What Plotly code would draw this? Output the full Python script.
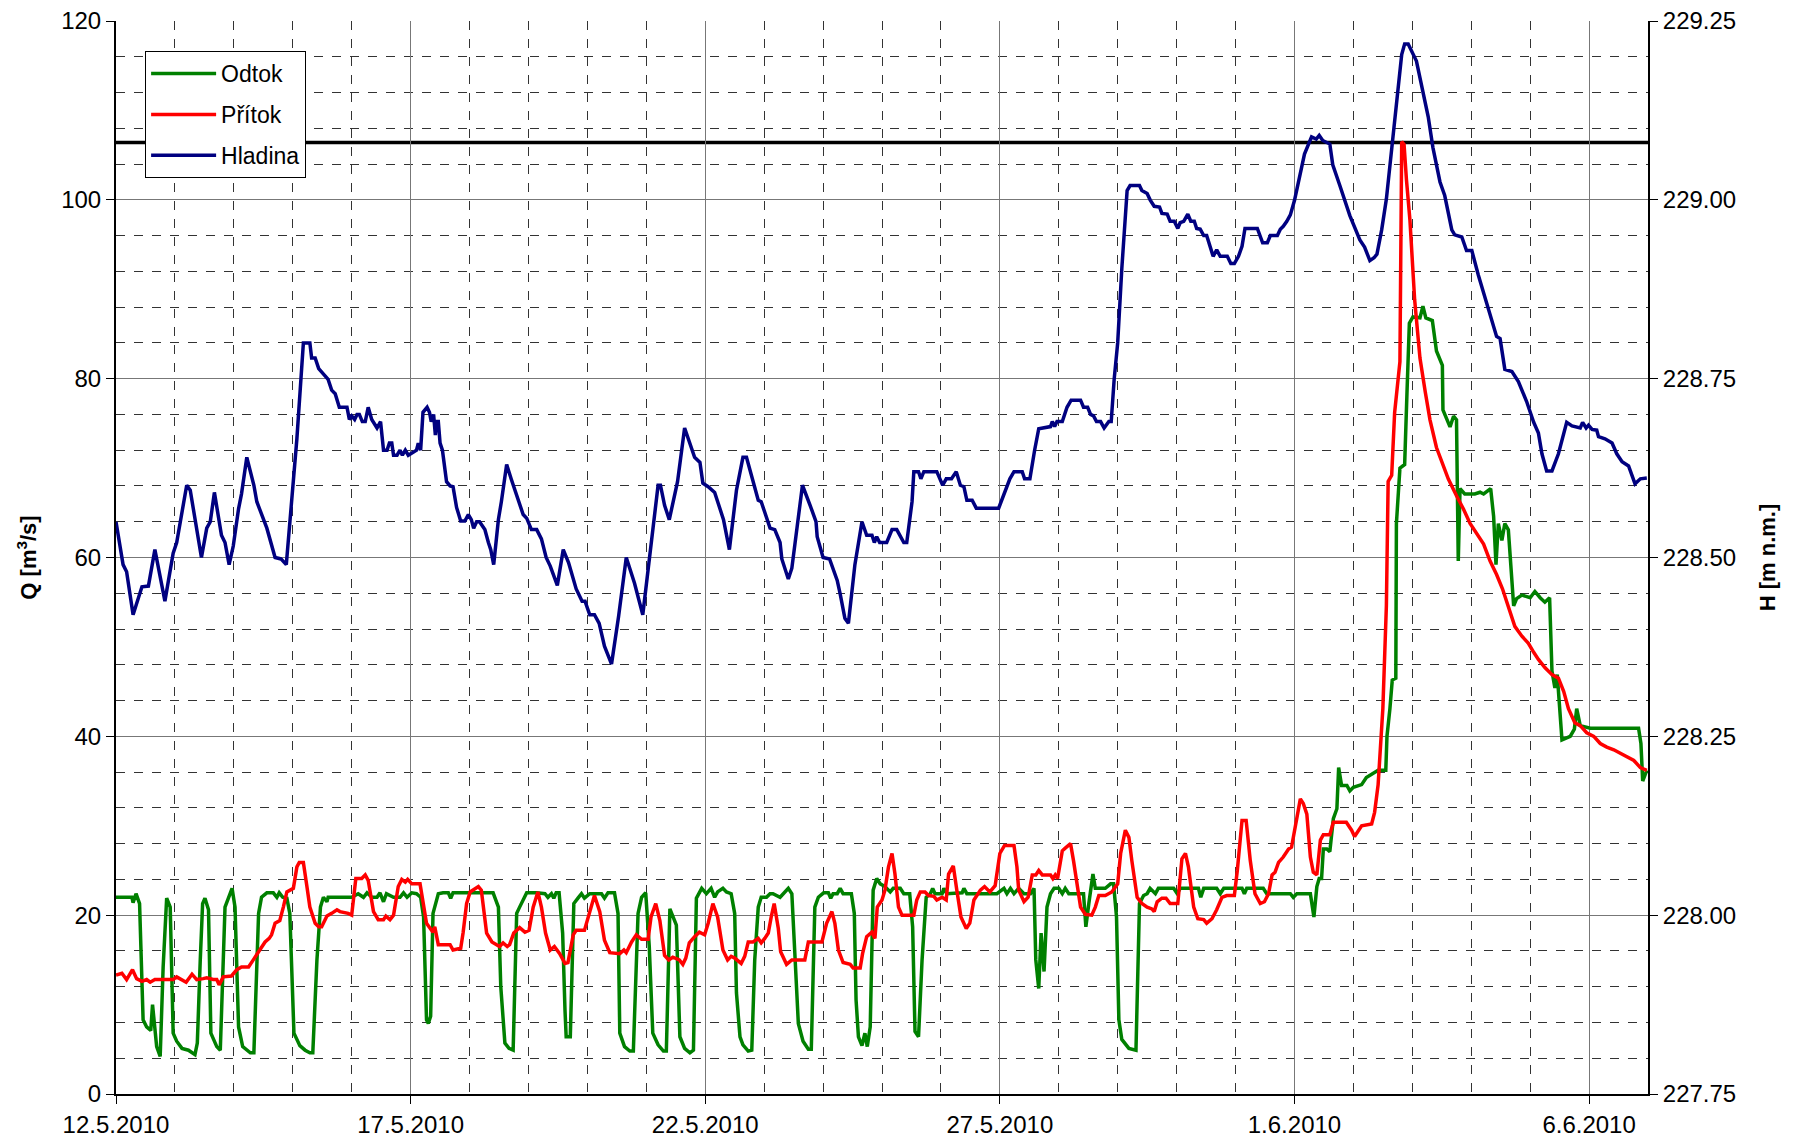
import pandas as pd
import plotly.graph_objects as go

# days since 12.5.2010 00:00 and values
START = pd.Timestamp("2010-05-12")

odtok_t = [
    0.00, 0.27, 0.29, 0.34, 0.40, 0.44, 0.46, 0.52, 0.59, 0.62, 0.69, 0.75, 0.80, 0.86, 0.92, 0.97,
    1.03, 1.12, 1.23, 1.34, 1.38, 1.43, 1.47, 1.51, 1.57, 1.61, 1.71, 1.77, 1.85, 1.97, 2.02, 2.08,
    2.15, 2.28, 2.34, 2.42, 2.47, 2.56, 2.67, 2.73, 2.77, 2.83, 2.90, 2.95, 3.02, 3.12, 3.21, 3.29,
    3.34, 3.41, 3.47, 3.52, 3.58, 3.60, 4.00, 4.11, 4.20, 4.26, 4.34, 4.43, 4.48, 4.54, 4.59, 4.71,
    4.82, 4.88, 4.94, 5.02, 5.10, 5.17, 5.22, 5.27, 5.30, 5.34, 5.38, 5.47, 5.55, 5.64, 5.68, 5.72,
    6.40, 6.49, 6.53, 6.60, 6.67, 6.74, 6.80, 6.85, 6.97, 7.14, 7.28, 7.33, 7.39, 7.43, 7.47, 7.52,
    7.58, 7.62, 7.64, 7.71, 7.77, 7.84, 7.90, 7.95, 8.04, 8.24, 8.29, 8.35, 8.46, 8.52, 8.55, 8.63,
    8.72, 8.78, 8.83, 8.86, 8.92, 8.99, 9.05, 9.11, 9.20, 9.29, 9.34, 9.40, 9.51, 9.57, 9.65, 9.74,
    9.80, 9.85, 9.94, 10.02, 10.10, 10.16, 10.21, 10.30, 10.36, 10.44, 10.50, 10.53, 10.59, 10.64,
    10.73, 10.79, 10.84, 10.90, 10.95, 11.04, 11.10, 11.15, 11.27, 11.35, 11.41, 11.47, 11.52, 11.58,
    11.66, 11.75, 11.80, 11.86, 11.92, 12.01, 12.09, 12.13, 12.17, 12.24, 12.29, 12.34, 12.48, 12.53,
    12.56, 12.60, 12.66, 12.71, 12.75, 12.80, 12.85, 12.91, 12.97, 13.05, 13.14, 13.19, 13.31, 13.37,
    13.47, 13.52, 13.56, 13.62, 13.68, 13.75, 13.82, 13.86, 13.90, 14.02, 14.05, 14.10, 14.36, 14.39,
    14.44, 14.95, 15.07, 15.12, 15.18, 15.24, 15.32, 15.41, 15.52, 15.58, 15.61, 15.66, 15.70, 15.75,
    15.78, 15.80, 15.86, 15.92, 16.00, 16.06, 16.11, 16.17, 16.42, 16.46, 16.51, 16.58, 16.62, 16.79,
    16.88, 16.93, 16.98, 17.02, 17.07, 17.19, 17.31, 17.34, 17.37, 17.44, 17.50, 17.55, 17.64, 17.69,
    17.95, 18.01, 18.06, 18.37, 18.41, 18.46, 18.68, 18.74, 18.80, 19.11, 19.15, 19.19, 19.47, 19.53,
    19.93, 19.98, 20.04, 20.27, 20.33, 20.38, 20.42, 20.46, 20.49, 20.55, 20.60, 20.66, 20.72, 20.75,
    20.80, 20.89, 20.94, 21.00, 21.14, 21.22, 21.31, 21.42, 21.55, 21.57, 21.62, 21.66, 21.72, 21.73,
    21.79, 21.87, 21.91, 21.95, 22.01, 22.13, 22.18, 22.23, 22.34, 22.41, 22.51, 22.52, 22.64, 22.70,
    22.75, 22.78, 22.81, 22.89, 22.98, 23.06, 23.15, 23.21, 23.33, 23.38, 23.42, 23.46, 23.52, 23.57,
    23.63, 23.72, 23.77, 23.86, 24.00, 24.08, 24.17, 24.25, 24.33, 24.37, 24.42, 24.46, 24.54, 24.68,
    24.75, 24.79, 24.85, 25.02, 25.84, 25.88, 25.91, 25.98,
]
odtok_q = [
    22.0, 22.0, 21.4, 22.4, 21.3, 13.9, 8.3, 7.5, 7.1, 10.0, 5.3, 4.2, 14.2, 21.9, 20.9, 6.8,
    5.9, 5.1, 4.9, 4.4, 5.7, 15.0, 21.3, 21.9, 20.6, 6.8, 5.3, 4.9, 20.9, 23.0, 20.9, 7.5,
    5.3, 4.6, 4.6, 20.2, 22.0, 22.5, 22.5, 22.0, 22.5, 22.0, 21.9, 20.2, 6.8, 5.4, 4.9, 4.6,
    4.6, 15.0, 20.9, 22.0, 21.5, 22.0, 22.0, 22.4, 22.0, 22.5, 22.0, 22.0, 22.5, 21.5, 22.4, 22.0,
    22.0, 22.5, 22.0, 22.5, 22.4, 22.0, 19.8, 8.3, 7.9, 8.7, 20.2, 22.4, 22.5, 22.5, 21.9, 22.5,
    22.5, 20.9, 12.0, 5.7, 5.1, 4.9, 20.2, 20.9, 22.5, 22.5, 22.4, 22.0, 22.4, 21.9, 22.5, 22.5,
    18.0, 9.4, 6.4, 6.4, 21.3, 21.9, 22.4, 21.9, 22.4, 22.4, 21.9, 22.5, 22.5, 20.2, 6.8, 5.3,
    4.8, 4.8, 16.1, 20.2, 22.0, 22.5, 16.5, 6.8, 5.5, 4.8, 4.8, 20.7, 18.9, 6.4, 5.1, 4.6,
    4.9, 21.9, 23.0, 22.4, 23.0, 22.0, 22.6, 23.0, 22.6, 22.4, 20.2, 11.3, 6.4, 5.5,
    4.8, 4.9, 15.0, 20.9, 22.0, 22.0, 22.4, 22.4, 22.0, 22.5, 23.0, 22.4, 15.0, 7.9,
    5.9, 5.0, 5.0, 20.9, 22.0, 22.5, 22.5, 21.9, 22.4, 22.4, 23.0, 22.4, 22.4, 20.2,
    10.5, 6.4, 5.4, 6.8, 5.3, 7.5, 22.8, 24.1, 23.5, 23.2, 22.6, 23.0, 23.0, 22.4,
    22.4, 18.7, 7.0, 6.4, 15.0, 22.0, 22.4, 23.0, 22.4, 22.4, 23.0, 22.4, 22.5, 23.0,
    22.4, 22.4, 23.0, 22.4, 23.0, 22.4, 23.0, 22.4, 22.4, 23.0, 15.0, 11.8, 18.0, 13.7,
    18.0, 20.9, 22.4, 23.0, 23.0, 22.4, 23.0, 22.4, 22.4, 18.7, 21.3, 24.6, 23.0, 23.0,
    23.5, 23.5, 19.8, 8.3, 6.1, 5.1, 4.9, 13.1, 21.3, 22.2, 22.4, 23.0, 22.4, 23.0,
    23.0, 22.4, 23.0, 23.0, 22.0, 23.0, 23.0, 22.4, 23.0, 23.0, 22.4, 23.0, 23.0, 22.4,
    22.4, 22.0, 22.4, 22.4, 19.8, 23.2, 24.1, 24.1, 27.4, 27.4, 27.1, 30.8, 31.9, 36.5,
    34.5, 34.5, 33.9, 34.3, 34.6, 35.4, 35.8, 36.2, 36.2, 40.0, 43.1, 46.3, 46.5, 63.8,
    70.0, 70.4, 78.5, 86.2, 86.9, 86.8, 88.1, 86.8, 86.5, 83.1, 81.5, 76.5, 74.6, 75.8,
    75.4, 59.6, 67.7, 67.1, 67.1, 67.1, 67.3, 67.1, 67.7, 64.6, 59.2, 63.8, 61.9, 63.8,
    63.1, 54.6, 55.4, 55.8, 55.5, 56.2, 55.5, 55.0, 55.5, 47.3, 45.4, 46.9, 39.6, 40.0,
    40.8, 43.1, 41.2, 40.9, 40.9, 39.2, 35.0, 36.2,
]

pritok_t = [
    0.00, 0.10, 0.18, 0.28, 0.35, 0.44, 0.52, 0.58, 0.66, 0.97, 1.03, 1.12, 1.19, 1.29, 1.37, 1.48,
    1.54, 1.65, 1.71, 1.75, 1.82, 1.96, 2.05, 2.13, 2.25, 2.33, 2.42, 2.53, 2.60, 2.64, 2.70, 2.78,
    2.84, 2.90, 3.01, 3.07, 3.11, 3.18, 3.24, 3.29, 3.38, 3.44, 3.49, 3.58, 3.66, 3.75, 3.80, 3.94,
    4.00, 4.07, 4.17, 4.23, 4.28, 4.37, 4.45, 4.54, 4.58, 4.65, 4.71, 4.79, 4.85, 4.91, 4.95, 5.02,
    5.16, 5.27, 5.38, 5.41, 5.47, 5.67, 5.72, 5.85, 5.89, 5.95, 6.01, 6.09, 6.15, 6.20, 6.29, 6.38,
    6.43, 6.51, 6.57, 6.64, 6.68, 6.75, 6.85, 6.94, 7.01, 7.08, 7.16, 7.22, 7.29, 7.37, 7.44, 7.53,
    7.62, 7.67, 7.76, 7.81, 7.95, 8.04, 8.12, 8.21, 8.29, 8.38, 8.55, 8.62, 8.66, 8.75, 8.83, 8.92,
    9.03, 9.08, 9.16, 9.23, 9.31, 9.38, 9.45, 9.56, 9.62, 9.67, 9.73, 9.82, 9.90, 9.99, 10.05, 10.13,
    10.21, 10.30, 10.38, 10.44, 10.50, 10.61, 10.67, 10.73, 10.81, 10.90, 10.95, 11.01, 11.07, 11.12,
    11.17, 11.24, 11.28, 11.38, 11.47, 11.69, 11.75, 11.98, 12.06, 12.15, 12.20, 12.26, 12.34, 12.46,
    12.51, 12.63, 12.67, 12.74, 12.83, 12.88, 12.92, 13.00, 13.05, 13.11, 13.17, 13.22, 13.28, 13.34,
    13.54, 13.59, 13.65, 13.73, 13.79, 13.88, 13.93, 14.02, 14.09, 14.13, 14.21, 14.27, 14.34, 14.43,
    14.49, 14.56, 14.67, 14.74, 14.83, 14.92, 15.00, 15.08, 15.24, 15.29, 15.32, 15.41, 15.48, 15.55,
    15.61, 15.66, 15.72, 15.80, 15.86, 15.90, 15.94, 15.98, 16.06, 16.11, 16.20, 16.25, 16.31, 16.37,
    16.45, 16.56, 16.62, 16.68, 16.79, 16.90, 17.00, 17.05, 17.13, 17.19, 17.24, 17.33, 17.41, 17.50,
    17.58, 17.62, 17.67, 17.75, 17.82, 17.89, 18.02, 18.09, 18.15, 18.20, 18.29, 18.36, 18.46, 18.51,
    18.60, 18.68, 18.77, 18.85, 18.98, 19.03, 19.11, 19.18, 19.25, 19.33, 19.42, 19.49, 19.56, 19.62,
    19.67, 19.73, 19.81, 19.90, 19.95, 20.01, 20.10, 20.15, 20.21, 20.27, 20.32, 20.38, 20.44, 20.49,
    20.60, 20.66, 20.88, 20.97, 21.02, 21.14, 21.31, 21.36, 21.42, 21.50, 21.56, 21.59, 21.65, 21.70,
    21.79, 21.82, 21.86, 21.90, 21.96, 22.04, 22.13, 22.22, 22.30, 22.41, 22.50, 22.61, 22.75, 22.87,
    22.98, 23.09, 23.21, 23.32, 23.43, 23.53, 23.66, 23.74, 23.86, 23.97, 24.06, 24.14, 24.25, 24.37,
    24.48, 24.57, 24.65, 24.76, 24.85, 24.96, 25.08, 25.19, 25.30, 25.42, 25.53, 25.64, 25.76, 25.87,
    25.98,
]
pritok_q = [
    13.3, 13.5, 12.8, 13.9, 12.9, 12.6, 12.8, 12.5, 12.8, 12.8, 13.1, 12.8, 12.5, 13.4, 12.8, 12.9,
    13.0, 12.8, 12.8, 12.2, 13.1, 13.2, 13.9, 14.2, 14.2, 15.0, 15.9, 17.0, 17.4, 17.8, 19.1, 19.4,
    20.9, 22.6, 23.0, 25.4, 25.9, 25.9, 23.2, 20.9, 19.1, 18.7, 18.7, 19.9, 20.2, 20.6, 20.4, 20.2,
    20.0, 24.1, 24.1, 24.5, 23.9, 20.4, 19.5, 19.5, 19.9, 19.5, 20.0, 23.2, 24.0, 23.7, 24.0, 23.5,
    23.5, 19.1, 18.1, 18.7, 16.7, 16.7, 16.1, 16.3, 18.0, 21.3, 22.6, 23.0, 23.2, 22.8, 18.0, 17.0,
    16.8, 16.5, 16.9, 16.5, 16.7, 18.0, 18.6, 18.1, 18.3, 20.9, 22.6, 20.9, 18.0, 16.1, 16.5, 15.7,
    14.6, 14.7, 17.8, 18.3, 18.3, 20.2, 22.2, 20.4, 17.2, 15.8, 15.7, 16.1, 15.8, 17.0, 17.8, 17.3,
    17.3, 19.8, 21.3, 19.4, 15.5, 15.0, 15.3, 15.0, 14.5, 15.2, 16.9, 17.6, 18.1, 17.8, 19.1, 21.3,
    19.8, 16.1, 15.0, 15.4, 15.2, 14.6, 15.4, 17.0, 17.0, 17.4, 16.9, 17.4, 18.0, 19.8,
    21.3, 18.5, 15.9, 14.5, 15.0, 15.0, 17.0, 17.0, 19.1, 20.4, 19.1, 16.1, 14.7, 14.5,
    14.1, 14.1, 15.7, 17.6, 18.1, 17.4, 20.9, 21.7, 22.8, 25.4, 26.9, 24.6, 20.9, 20.0,
    20.0, 21.7, 22.6, 22.6, 22.2, 22.1, 21.7, 22.0, 21.7, 24.6, 25.5, 22.8, 19.8, 18.5,
    19.1, 21.7, 22.8, 23.2, 22.6, 23.3, 26.9, 27.8, 27.8, 25.4, 22.8, 21.5, 22.0, 24.5,
    24.5, 25.0, 24.5, 24.5, 24.5, 24.1, 24.5, 24.1, 27.2, 27.5, 28.0, 26.1, 23.2, 20.9,
    20.1, 20.0, 20.9, 22.2, 22.2, 22.6, 23.5, 26.9, 29.5, 28.7, 26.1, 22.0, 21.3, 20.9,
    20.7, 20.4, 21.5, 21.9, 21.9, 21.3, 21.3, 26.3, 26.9, 25.4, 20.9, 19.6, 19.5, 19.1,
    19.6, 20.6, 22.0, 22.2, 22.2, 25.0, 30.6, 30.6, 26.1, 22.4, 21.3, 21.5, 22.4, 24.5,
    24.8, 25.9, 26.5, 27.4, 27.6, 29.9, 33.0, 32.5, 31.3, 26.5, 24.8, 24.5, 28.4, 29.0,
    29.0, 30.4, 30.4, 29.5, 28.8, 30.0, 30.2, 31.5, 34.6, 43.1, 54.6, 68.5, 69.2, 76.2,
    81.9, 106.5, 106.2, 102.3, 97.7, 88.8, 82.3, 78.5, 75.4, 72.3, 70.8, 68.8, 66.9, 65.4,
    63.8, 62.7, 61.5, 59.6, 58.1, 56.5, 53.8, 52.3, 51.2, 50.4, 49.4, 48.6, 47.7, 46.9,
    46.5, 45.0, 43.1, 41.5, 41.2, 40.4, 40.0, 39.2, 38.8, 38.5, 38.1, 37.7, 37.3, 36.5,
    36.2,
]

hladina_t = [
    0.00, 0.12, 0.18, 0.29, 0.44, 0.55, 0.66, 0.83, 0.97, 1.03, 1.20, 1.26, 1.45, 1.54, 1.60, 1.67,
    1.79, 1.85, 1.92, 1.99, 2.08, 2.13, 2.22, 2.28, 2.34, 2.39, 2.56, 2.70, 2.80, 2.89, 2.98, 3.07,
    3.18, 3.29, 3.32, 3.38, 3.44, 3.52, 3.60, 3.66, 3.72, 3.79, 3.92, 3.96, 4.00, 4.05, 4.09, 4.13,
    4.18, 4.23, 4.28, 4.34, 4.43, 4.49, 4.54, 4.60, 4.64, 4.68, 4.71, 4.77, 4.82, 4.86, 4.91, 4.96,
    5.10, 5.13, 5.17, 5.21, 5.28, 5.32, 5.35, 5.39, 5.42, 5.44, 5.47, 5.50, 5.54, 5.61, 5.67, 5.72,
    5.78, 5.85, 5.92, 5.98, 6.03, 6.07, 6.12, 6.17, 6.26, 6.32, 6.36, 6.41, 6.49, 6.54, 6.63, 6.71,
    6.83, 6.91, 6.97, 7.05, 7.14, 7.22, 7.30, 7.37, 7.49, 7.59, 7.68, 7.81, 7.91, 7.96, 8.04, 8.12,
    8.20, 8.29, 8.41, 8.53, 8.66, 8.80, 8.94, 9.11, 9.20, 9.24, 9.31, 9.39, 9.53, 9.65, 9.82, 9.91,
    9.96, 10.05, 10.16, 10.31, 10.41, 10.53, 10.64, 10.70, 10.84, 10.90, 10.95, 11.10, 11.18, 11.27,
    11.30, 11.41, 11.47, 11.65, 11.78, 11.88, 11.90, 12.00, 12.11, 12.24, 12.29, 12.37, 12.43, 12.54,
    12.66, 12.74, 12.83, 12.87, 12.91, 12.96, 13.08, 13.17, 13.25, 13.31, 13.37, 13.42, 13.51, 13.54,
    13.62, 13.66, 13.71, 13.93, 13.98, 14.03, 14.09, 14.18, 14.26, 14.33, 14.39, 14.44, 14.53, 14.60,
    14.98, 15.07, 15.17, 15.24, 15.38, 15.42, 15.51, 15.59, 15.66, 15.86, 15.89, 15.93, 15.97, 16.06,
    16.14, 16.21, 16.37, 16.42, 16.49, 16.54, 16.59, 16.64, 16.71, 16.77, 16.85, 16.89, 16.94, 17.00,
    17.07, 17.16, 17.21, 17.37, 17.41, 17.50, 17.55, 17.62, 17.71, 17.75, 17.84, 17.89, 17.96, 18.02,
    18.06, 18.12, 18.19, 18.24, 18.30, 18.34, 18.40, 18.46, 18.51, 18.62, 18.68, 18.74, 18.86, 18.92,
    18.98, 19.05, 19.11, 19.16, 19.37, 19.46, 19.54, 19.59, 19.71, 19.76, 19.81, 19.87, 19.93, 20.00,
    20.07, 20.17, 20.29, 20.37, 20.42, 20.48, 20.60, 20.65, 20.77, 20.94, 21.11, 21.19, 21.28, 21.35,
    21.40, 21.48, 21.56, 21.65, 21.73, 21.82, 21.87, 21.93, 22.07, 22.19, 22.27, 22.35, 22.47, 22.55,
    22.67, 22.72, 22.84, 22.92, 23.01, 23.12, 23.26, 23.35, 23.43, 23.49, 23.57, 23.69, 23.80, 23.94,
    24.06, 24.14, 24.20, 24.28, 24.37, 24.48, 24.57, 24.62, 24.71, 24.85, 24.89, 24.95, 24.99, 25.05,
    25.13, 25.16, 25.27, 25.39, 25.47, 25.56, 25.67, 25.78, 25.87, 25.98,
]
hladina_h = [
    228.550, 228.490, 228.480, 228.420, 228.459, 228.460, 228.511, 228.439, 228.506, 228.521,
    228.601, 228.594, 228.500, 228.541, 228.550, 228.591, 228.531, 228.521, 228.490, 228.516,
    228.568, 228.589, 228.640, 228.620, 228.601, 228.578, 228.541, 228.500, 228.498, 228.490,
    228.578, 228.666, 228.800, 228.800, 228.779, 228.779, 228.764, 228.756, 228.749, 228.734,
    228.729, 228.710, 228.710, 228.693, 228.698, 228.693, 228.700, 228.700, 228.690, 228.690,
    228.710, 228.693, 228.681, 228.690, 228.650, 228.650, 228.660, 228.660, 228.643, 228.643,
    228.650, 228.643, 228.650, 228.643, 228.650, 228.660, 228.650, 228.703, 228.710, 228.703,
    228.690, 228.700, 228.671, 228.690, 228.690, 228.660, 228.650, 228.606, 228.600, 228.599,
    228.570, 228.551, 228.551, 228.560, 228.553, 228.541, 228.550, 228.550, 228.539, 228.521,
    228.511, 228.490, 228.553, 228.578, 228.630, 228.609, 228.578, 228.560, 228.555, 228.539,
    228.539, 228.526, 228.500, 228.488, 228.461, 228.511, 228.493, 228.456, 228.439, 228.439,
    228.420, 228.420, 228.408, 228.376, 228.351, 228.418, 228.500, 228.464, 228.420, 228.541,
    228.601, 228.601, 228.573, 228.553, 228.606, 228.681, 228.640, 228.633, 228.604, 228.599,
    228.591, 228.553, 228.511, 228.594, 228.640, 228.640, 228.601, 228.580, 228.578, 228.541,
    228.539, 228.521, 228.498, 228.470, 228.485, 228.601, 228.573, 228.550, 228.529, 228.500,
    228.498, 228.468, 228.449, 228.415, 228.408, 228.490, 228.550, 228.531, 228.531, 228.521,
    228.529, 228.521, 228.521, 228.539, 228.539, 228.529, 228.521, 228.521, 228.578, 228.620,
    228.620, 228.610, 228.620, 228.620, 228.610, 228.601, 228.610, 228.610, 228.620, 228.601,
    228.599, 228.580, 228.580, 228.569, 228.569, 228.589, 228.610, 228.620, 228.620, 228.610,
    228.610, 228.650, 228.680, 228.683, 228.690, 228.683, 228.690, 228.690, 228.710, 228.720,
    228.720, 228.710, 228.710, 228.700, 228.698, 228.690, 228.690, 228.681, 228.690, 228.690,
    228.749, 228.800, 228.904, 229.013, 229.020, 229.020, 229.013, 229.009, 229.000, 228.991,
    228.990, 228.981, 228.980, 228.970, 228.970, 228.960, 228.968, 228.970, 228.980, 228.970,
    228.970, 228.960, 228.959, 228.950, 228.950, 228.921, 228.930, 228.921, 228.921, 228.911,
    228.911, 228.921, 228.935, 228.960, 228.960, 228.940, 228.940, 228.950, 228.950, 228.959,
    228.963, 228.970, 228.979, 228.999, 229.028, 229.064, 229.088, 229.085, 229.090, 229.083,
    229.078, 229.049, 229.020, 228.978, 228.944, 228.934, 228.915, 228.919, 228.924, 228.958,
    229.001, 229.069, 229.126, 229.203, 229.218, 229.218, 229.194, 229.150, 229.116, 229.073,
    229.025, 229.006, 228.958, 228.951, 228.948, 228.929, 228.929, 228.895, 228.856, 228.828,
    228.809, 228.806, 228.763, 228.760, 228.746, 228.718, 228.689, 228.674, 228.645, 228.621,
    228.621, 228.645, 228.674, 228.689, 228.684, 228.681, 228.689, 228.681, 228.685, 228.679,
    228.678, 228.669, 228.666, 228.660, 228.645, 228.634, 228.628, 228.603, 228.610, 228.611,
]

H_LIMIT = 229.08  # black reference level

x_tickvals = ["2010-05-12", "2010-05-17", "2010-05-22", "2010-05-27", "2010-06-01", "2010-06-06"]
x_ticktext = ["12.5.2010", "17.5.2010", "22.5.2010", "27.5.2010", "1.6.2010", "6.6.2010"]
q_ticks = [0, 20, 40, 60, 80, 100, 120]
h_ticks = [227.75, 228.00, 228.25, 228.50, 228.75, 229.00, 229.25]


def to_dates(days):
    return START + pd.to_timedelta(days, unit="D")


FONT = "Liberation Sans, Arial, sans-serif"
LINE_W = 3.5

fig = go.Figure()
fig.add_trace(go.Scatter(x=to_dates(odtok_t), y=odtok_q, mode="lines", name="Odtok",
                         legendgroup="o", line=dict(color="#008000", width=LINE_W)))
fig.add_trace(go.Scatter(x=to_dates(pritok_t), y=pritok_q, mode="lines", name="Přítok",
                         legendgroup="p", line=dict(color="#FF0000", width=LINE_W)))
fig.add_trace(go.Scatter(x=to_dates(hladina_t), y=hladina_h, mode="lines", name="Hladina",
                         legendgroup="h", yaxis="y2", line=dict(color="#000080", width=LINE_W)))

fig.add_shape(type="line", xref="paper", x0=0, x1=1, yref="y2", y0=H_LIMIT, y1=H_LIMIT,
              line=dict(color="black", width=3.5), layer="between")

# the page body adds an 8 px offset, so the figure is 8 px smaller on each side
fig.update_layout(
    width=1785, height=1138,
    margin=dict(l=108, r=145, t=13, b=52, autoexpand=False),
    paper_bgcolor="white", plot_bgcolor="white",
    font=dict(family=FONT, size=24, color="black"),
    showlegend=True,
    legend=dict(x=0.019, y=0.972, xanchor="left", yanchor="top",
                bgcolor="white", bordercolor="black", borderwidth=1,
                font=dict(size=23), tracegroupgap=8, itemwidth=65),
    xaxis=dict(
        type="date", automargin=False,
        range=["2010-05-12", "2010-06-07"],
        tickvals=x_tickvals, ticktext=x_ticktext,
        ticks="outside", ticklen=8, tickcolor="black",
        showline=True, linecolor="black", linewidth=2,
        showgrid=True, gridcolor="#777777", gridwidth=1,
        minor=dict(dtick=86400000, tick0="2010-05-12", showgrid=True,
                   gridcolor="#333333", griddash="dash", gridwidth=1),
        zeroline=False, ticklabeloverflow="allow",
    ),
    yaxis=dict(
        automargin=False,
        range=[0, 120], tickvals=q_ticks,
        ticks="outside", ticklen=8, tickcolor="black",
        showline=True, linecolor="black", linewidth=2,
        showgrid=True, gridcolor="#777777", gridwidth=1,
        minor=dict(dtick=4, showgrid=True, gridcolor="#333333",
                   griddash="dash", gridwidth=1),
        zeroline=False, ticklabeloverflow="allow",
        title=dict(text="<b>Q [m<sup>3</sup>/s]</b>", font=dict(size=22), standoff=18),
    ),
    yaxis2=dict(
        automargin=False,
        overlaying="y", side="right",
        range=[227.75, 229.25], tickvals=h_ticks, tickformat=".2f",
        ticks="outside", ticklen=8, tickcolor="black",
        showline=True, linecolor="black", linewidth=2,
        showgrid=False, zeroline=False, ticklabeloverflow="allow",
        title=dict(text="<b>H [m n.m.]</b>", font=dict(size=22), standoff=24),
    ),
)

fig.write_html("out.html")
